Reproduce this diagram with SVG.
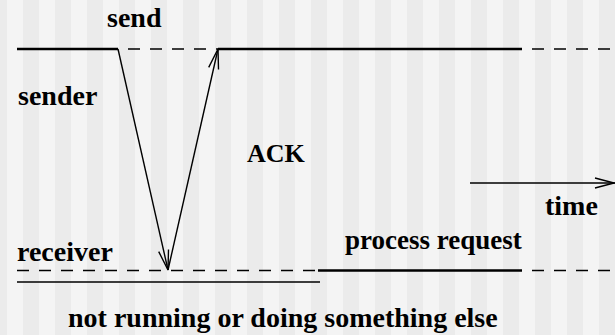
<svg xmlns="http://www.w3.org/2000/svg" width="615" height="335" viewBox="0 0 615 335">
<rect x="0" y="0" width="615" height="335" fill="#f4f4f4"/>
<path fill="#ebebeb" d="M0 0h7v335h-7z M23 0h16v335h-16z M55 0h16v335h-16z M87 0h16v335h-16z M119 0h16v335h-16z M151 0h16v335h-16z M183 0h16v335h-16z M215 0h16v335h-16z M247 0h16v335h-16z M279 0h16v335h-16z M311 0h16v335h-16z M343 0h16v335h-16z M375 0h16v335h-16z M407 0h16v335h-16z M439 0h16v335h-16z M471 0h16v335h-16z M503 0h16v335h-16z M535 0h16v335h-16z M567 0h16v335h-16z M599 0h16v335h-16z"/>
<g id="timelines" stroke="#000" fill="none">
<line stroke-width="2.5" x1="17" y1="49" x2="118" y2="49"/>
<line stroke-width="1.5" stroke-dasharray="12 10" x1="128" y1="49" x2="218" y2="49"/>
<line stroke-width="2.5" x1="218" y1="49" x2="522" y2="49"/>
<line stroke-width="1.5" stroke-dasharray="12 10" x1="532" y1="49" x2="615" y2="49"/>
<line stroke-width="1.5" stroke-dasharray="12 10" x1="17" y1="270.5" x2="318" y2="270.5"/>
<line stroke-width="2.5" x1="318" y1="270.5" x2="522" y2="270.5"/>
<line stroke-width="1.5" stroke-dasharray="12 10" x1="532" y1="270.5" x2="615" y2="270.5"/>
<line stroke-width="1.5" x1="17" y1="282" x2="320" y2="282"/>
</g>
<g id="connectors" stroke="#000" stroke-width="1.4" fill="none">
<line x1="118" y1="49" x2="168" y2="270"/>
<polyline points="158.7,251.6 168,270 168.5,249.4"/>
<line x1="168" y1="270" x2="218" y2="49"/>
<polyline points="208.7,67.4 218,49 218.5,69.6"/>
<line x1="470" y1="183" x2="615" y2="183"/>
<polyline points="595,178 614,183 595,188"/>
</g>
<g id="labels" font-family="Times New Roman, Liberation Serif, serif" font-weight="bold" font-size="28" fill="#000">
<text x="107" y="27">send</text>
<text x="18" y="105">sender</text>
<text x="247" y="162" font-size="26">ACK</text>
<text x="545" y="215">time</text>
<text x="345" y="249" font-size="27">process request</text>
<text x="17" y="261">receiver</text>
<text x="68" y="327">not running or doing something else</text>
</g>
</svg>
